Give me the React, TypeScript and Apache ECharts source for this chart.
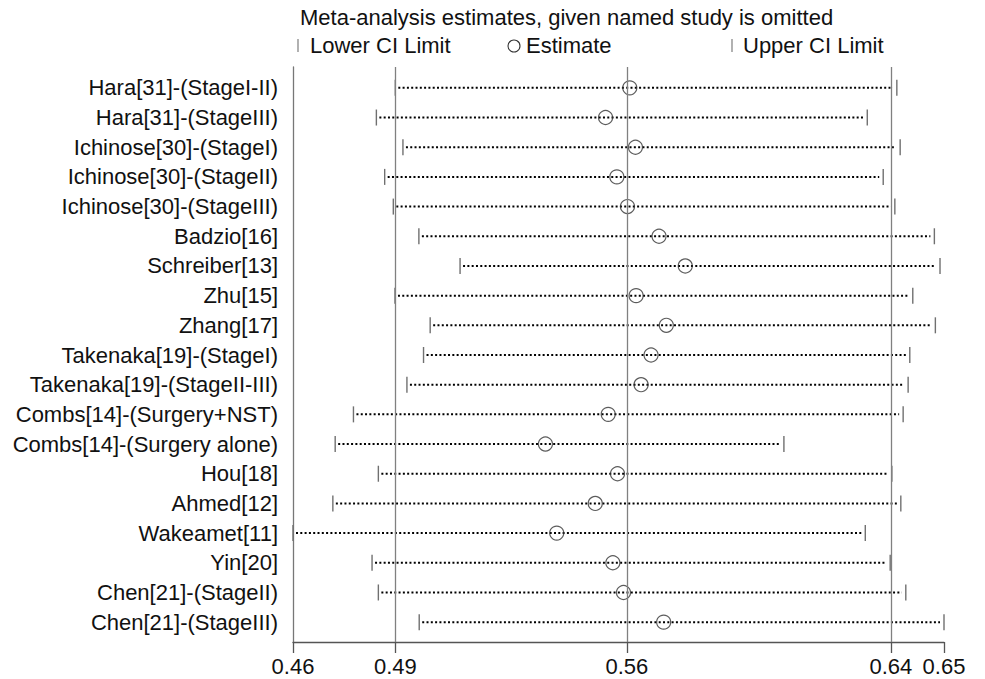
import React, { useEffect, useRef } from "react";
import * as echarts from "echarts";

const studyNames = [
  "Hara[31]-(StageI-II)",
  "Hara[31]-(StageIII)",
  "Ichinose[30]-(StageI)",
  "Ichinose[30]-(StageII)",
  "Ichinose[30]-(StageIII)",
  "Badzio[16]",
  "Schreiber[13]",
  "Zhu[15]",
  "Zhang[17]",
  "Takenaka[19]-(StageI)",
  "Takenaka[19]-(StageII-III)",
  "Combs[14]-(Surgery+NST)",
  "Combs[14]-(Surgery alone)",
  "Hou[18]",
  "Ahmed[12]",
  "Wakeamet[11]",
  "Yin[20]",
  "Chen[21]-(StageII)",
  "Chen[21]-(StageIII)",
];

const lowerCI = [
  0.4868, 0.4811, 0.4891, 0.4836, 0.4862, 0.4939, 0.5063, 0.4867, 0.4973, 0.4953,
  0.4903, 0.4742, 0.4687, 0.4817, 0.468, 0.456, 0.4798, 0.4817, 0.494,
];
const estimates = [
  0.5574, 0.5501, 0.5591, 0.5535, 0.5567, 0.5662, 0.5741, 0.5593, 0.5684, 0.5638,
  0.5608, 0.5509, 0.532, 0.5537, 0.547, 0.5354, 0.5523, 0.5555, 0.5676,
];
const upperCI = [
  0.6378, 0.6289, 0.6388, 0.6337, 0.6372, 0.6491, 0.6508, 0.6426, 0.6494, 0.6417,
  0.6412, 0.6397, 0.6038, 0.6363, 0.639, 0.6283, 0.6358, 0.6405, 0.652,
];
// overall pooled estimate: [lower CI, estimate, upper CI]
const overall = [0.4868, 0.5565, 0.636];

const titleText = "Meta-analysis estimates, given named study is omitted";
const legendLabels = ["Lower CI Limit", "Estimate", "Upper CI Limit"];

const FONT = "'Liberation Sans', Arial, Helvetica, sans-serif";

export default function App() {
  const ref = useRef<HTMLDivElement>(null);

  useEffect(() => {
    if (!ref.current) return;
    const chart = echarts.init(ref.current, null, { renderer: "svg" });

    const xMin = Math.min(...lowerCI);
    const xMax = Math.max(...upperCI);
    const tickVals = [xMin, overall[0], overall[1], overall[2], xMax];

    const gridLeft = 293;
    const gridRight = 41;

    const option: any = {
      animation: false,
      backgroundColor: "#ffffff",
      textStyle: { fontFamily: FONT },
      grid: [
        { left: gridLeft, right: gridRight, top: 67, height: 575 },
        { left: gridLeft, right: gridRight, top: 73, height: 564 },
      ],
      xAxis: [
        {
          gridIndex: 0,
          type: "value",
          min: xMin,
          max: xMax,
          splitLine: { show: false },
          axisLine: { show: true, lineStyle: { color: "#555", width: 1.3 } },
          axisTick: {
            show: true,
            customValues: tickVals,
            length: 11,
            lineStyle: { color: "#555", width: 1.3 },
          },
          axisLabel: {
            show: true,
            customValues: tickVals,
            formatter: (v: number) => v.toFixed(2),
            fontSize: 22,
            fontFamily: FONT,
            color: "#111",
            margin: 13,
          },
        },
        {
          gridIndex: 1,
          type: "value",
          min: xMin,
          max: xMax,
          show: false,
        },
      ],
      yAxis: [
        {
          gridIndex: 0,
          type: "value",
          min: 0,
          max: 1,
          axisLine: { show: true, lineStyle: { color: "#777", width: 1.3 } },
          axisTick: { show: false },
          axisLabel: { show: false },
          splitLine: { show: false },
        },
        {
          gridIndex: 1,
          type: "category",
          data: studyNames,
          inverse: true,
          boundaryGap: true,
          axisLine: { show: false },
          axisTick: { show: false },
          splitLine: { show: false },
          axisLabel: {
            fontSize: 22,
            fontFamily: FONT,
            color: "#111",
            margin: 15,
          },
        },
      ],
      series: [
        {
          type: "line",
          xAxisIndex: 0,
          yAxisIndex: 0,
          data: [],
          silent: true,
          markLine: {
            silent: true,
            symbol: "none",
            precision: 6,
            label: { show: false },
            lineStyle: { color: "#808080", width: 1.3, type: "solid" },
            data: overall.map((v) => ({ xAxis: v })),
          },
        },
        {
          type: "custom",
          xAxisIndex: 1,
          yAxisIndex: 1,
          silent: true,
          data: studyNames.map((_, i) => [lowerCI[i], upperCI[i], i]),
          encode: { x: [0, 1], y: 2 },
          renderItem: (params: any, api: any) => {
            const idx = api.value(2);
            const p1 = api.coord([api.value(0), idx]);
            const p2 = api.coord([api.value(1), idx]);
            return {
              type: "group",
              children: [
                {
                  type: "line",
                  shape: { x1: p1[0] + 3, y1: p1[1], x2: p2[0] - 4, y2: p2[1] },
                  style: {
                    stroke: "#000",
                    lineWidth: 2,
                    lineDash: [2, 2.3],
                  },
                },
                {
                  type: "line",
                  shape: { x1: p1[0], y1: p1[1] - 8, x2: p1[0], y2: p1[1] + 8 },
                  style: { stroke: "#707070", lineWidth: 1.4 },
                },
                {
                  type: "line",
                  shape: { x1: p2[0], y1: p2[1] - 8, x2: p2[0], y2: p2[1] + 8 },
                  style: { stroke: "#707070", lineWidth: 1.4 },
                },
              ],
            };
          },
          z: 3,
        },
        {
          type: "scatter",
          xAxisIndex: 1,
          yAxisIndex: 1,
          silent: true,
          symbol: "circle",
          symbolSize: 14,
          itemStyle: {
            color: "rgba(0,0,0,0)",
            borderColor: "#333",
            borderWidth: 1.2,
          },
          data: studyNames.map((_, i) => [estimates[i], i]),
          z: 4,
        },
      ],
      graphic: [
        {
          type: "text",
          x: 300,
          y: 17,
          style: {
            text: titleText,
            fontSize: 22,
            fontFamily: FONT,
            fill: "#111",
            verticalAlign: "middle",
            align: "left",
          },
        },
        {
          type: "line",
          shape: { x1: 298, y1: 39, x2: 298, y2: 52 },
          style: { stroke: "#888", lineWidth: 1.3 },
        },
        {
          type: "text",
          x: 310,
          y: 45,
          style: {
            text: legendLabels[0],
            fontSize: 22,
            fontFamily: FONT,
            fill: "#111",
            verticalAlign: "middle",
            align: "left",
          },
        },
        {
          type: "circle",
          shape: { cx: 514, cy: 46, r: 6 },
          style: { stroke: "#333", fill: "none", lineWidth: 1.1 },
        },
        {
          type: "text",
          x: 526,
          y: 45,
          style: {
            text: legendLabels[1],
            fontSize: 22,
            fontFamily: FONT,
            fill: "#111",
            verticalAlign: "middle",
            align: "left",
          },
        },
        {
          type: "line",
          shape: { x1: 732, y1: 39, x2: 732, y2: 52 },
          style: { stroke: "#888", lineWidth: 1.3 },
        },
        {
          type: "text",
          x: 743,
          y: 45,
          style: {
            text: legendLabels[2],
            fontSize: 22,
            fontFamily: FONT,
            fill: "#111",
            verticalAlign: "middle",
            align: "left",
          },
        },
      ],
    };

    chart.setOption(option);
    return () => {
      chart.dispose();
    };
  }, []);

  return (
    <div
      ref={ref}
      style={{
        position: "fixed",
        left: 0,
        top: 0,
        width: 985,
        height: 679,
        background: "#fff",
      }}
    />
  );
}
